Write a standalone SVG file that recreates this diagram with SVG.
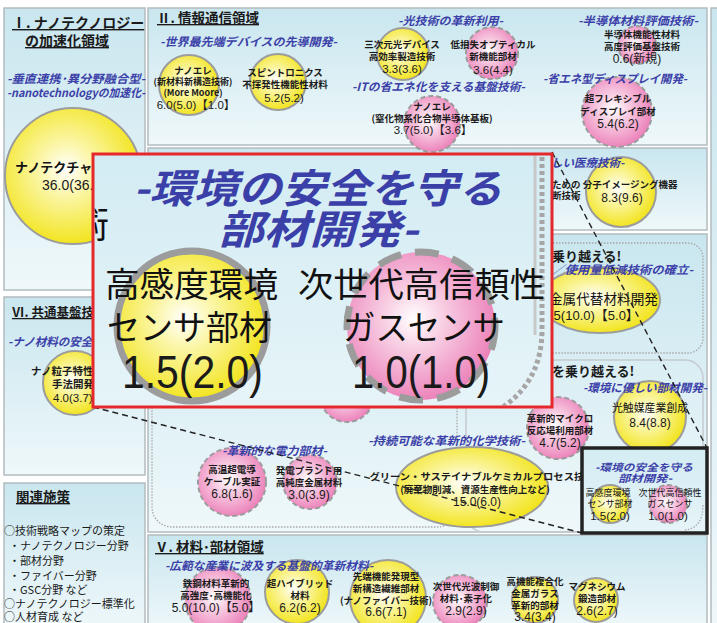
<svg xmlns="http://www.w3.org/2000/svg" width="717" height="623" viewBox="0 0 717 623">
<defs>
<linearGradient id="gp" x1="0" y1="0" x2="0" y2="1"><stop offset="0" stop-color="#c9e6ef"/><stop offset="1" stop-color="#eff8fa"/></linearGradient>
<linearGradient id="gr" x1="0" y1="0" x2="0" y2="1"><stop offset="0" stop-color="#d3ecf3"/><stop offset="1" stop-color="#e6f4f8"/></linearGradient>
<radialGradient id="gy" cx="0.45" cy="0.45" r="0.56"><stop offset="0" stop-color="#ffffff"/><stop offset="0.35" stop-color="#fbf6a8"/><stop offset="1" stop-color="#f2e41c"/></radialGradient>
<radialGradient id="gk" cx="0.45" cy="0.45" r="0.56"><stop offset="0" stop-color="#ffffff"/><stop offset="0.35" stop-color="#f8d0e4"/><stop offset="1" stop-color="#ec82ba"/></radialGradient>
<clipPath id="rc"><rect x="94.5" y="155.5" width="456" height="250"/></clipPath>
<style>
.pn{fill:url(#gp);stroke:#b3bcc0;stroke-width:1.5}
.y{fill:url(#gy);stroke:#9c9c9c;stroke-width:2}
.p{fill:url(#gk);stroke:#9c9c9c;stroke-width:2;stroke-dasharray:5 3}
.t{font-family:"Noto Sans CJK JP","Noto Sans",sans-serif;font-size:9.5px;font-weight:bold;fill:#1a1a1a;text-anchor:middle}
.n{font-family:"Liberation Sans Narrow","Liberation Sans","Noto Sans CJK JP",sans-serif;font-size:11.5px;fill:#1a1a1a;text-anchor:middle}
.b{font-family:"Noto Sans CJK JP","Noto Sans",sans-serif;font-size:11.5px;font-weight:bold;font-style:italic;fill:#3b3fa8}
.h{font-family:"Noto Sans CJK JP","Noto Sans",sans-serif;font-size:13.5px;font-weight:bold;fill:#1a1a1a;text-decoration:underline}
.k{font-family:"Noto Sans CJK JP","Noto Sans",sans-serif;font-size:11px;fill:#1a1a1a}
.kb{font-family:"Noto Sans CJK JP","Noto Sans",sans-serif;font-size:13px;font-weight:bold;fill:#1a1a1a}
.dot{fill:none;stroke:#a8a8a8;stroke-width:1.3;stroke-dasharray:1.5 1.5}
.cn{fill:none;stroke:#222;stroke-width:1.4;stroke-dasharray:6 4}
.Y{font-family:"Noto Sans CJK JP","Noto Sans",sans-serif;fill:#111;text-anchor:middle}
.s{text-anchor:start}
</style>
</defs>

<!-- panels -->
<g id="panels">
<rect class="pn" x="4" y="8" width="141" height="282"/>
<rect class="pn" x="148" y="8" width="559" height="137"/>
<rect class="pn" x="148" y="148" width="559" height="82"/>
<rect class="pn" x="148" y="234" width="559" height="298"/>
<rect class="pn" x="4" y="297" width="141" height="178"/>
<rect class="pn" x="4" y="483" width="141" height="150"/>
<rect class="pn" x="148" y="535" width="559" height="95"/>
<rect class="pn" x="711" y="8" width="20" height="625"/>
<rect class="dot" x="152" y="243" width="305" height="284" rx="20"/>
<rect class="dot" x="466" y="243" width="237" height="110" rx="15"/>
<rect x="466" y="360" width="237" height="172" rx="18" fill="none" stroke="#c4ccd0" stroke-width="1.5"/>
</g>

<!-- Panel I nodes -->
<g id="n-nanotecture">
<circle class="y" cx="73" cy="176" r="68"/>
<text class="Y s" x="15" y="172" style="font-size:13px;font-weight:bold">ナノテクチャ</text>
<text class="n s" x="42" y="190" style="font-size:14px">36.0(36.5)</text>
</g>

<!-- Panel II nodes -->
<g id="n-nanoele1">
<circle class="y" cx="189" cy="85" r="30"/>
<text class="t" x="193" y="74">ナノエレ</text>
<text class="t" x="193" y="85" style="font-size:9px">(新材料新構造技術)</text>
<text class="t" x="193" y="96" style="font-size:9px">(More Moore)</text>
<text class="n" x="196" y="109">6.0(5.0)【1.0】</text>
</g>
<g id="n-spin">
<circle class="y" cx="278" cy="82" r="28"/>
<text class="t" x="285" y="76">スピントロニクス</text>
<text class="t" x="285" y="88">不揮発性機能性材料</text>
<text class="n" x="284" y="102">5.2(5.2)</text>
</g>
<g id="n-3d">
<circle class="y" cx="403" cy="54" r="26"/>
<text class="t" x="402" y="48">三次元光デバイス</text>
<text class="t" x="402" y="60">高効率製造技術</text>
<text class="n" x="402" y="73">3.3(3.6)</text>
</g>
<g id="n-optical">
<circle class="p" cx="492" cy="53" r="26"/>
<text class="t" x="493" y="48">低損失オプティカル</text>
<text class="t" x="493" y="60">新機能部材</text>
<text class="n" x="493" y="74">3.6(4.4)</text>
</g>
<g id="n-nanoele2">
<circle class="p" cx="432" cy="124" r="28"/>
<text class="t" x="432" y="110">ナノエレ</text>
<text class="t" x="432" y="122">(窒化物系化合物半導体基板)</text>
<text class="n" x="433" y="134">3.7(5.0)【3.6】</text>
</g>
<g id="n-semi">
<circle class="p" cx="637" cy="45" r="19"/>
<text class="t" x="642" y="38">半導体機能性材料</text>
<text class="t" x="642" y="50">高度評価基盤技術</text>
<text class="n" x="637" y="63" style="font-size:12px">0.6(新規)</text>
</g>
<g id="n-flex">
<circle class="p" cx="617" cy="112" r="35"/>
<text class="t" x="618" y="102">超フレキシブル</text>
<text class="t" x="618" y="115">ディスプレイ部材</text>
<text class="n" x="618" y="128" style="font-size:12px">5.4(6.2)</text>
</g>

<!-- Panel III nodes -->
<g id="n-imaging">
<circle class="y" cx="621" cy="192" r="35"/>
<text class="t s" x="552" y="188" xml:space="preserve">ための 分子イメージング機器</text>
<text class="t s" x="552" y="199">断技術</text>
<text class="n" x="622" y="202" style="font-size:12px">8.3(9.6)</text>
</g>

<!-- Panel IV nodes -->
<g id="n-metal">
<ellipse class="y" cx="600" cy="300" rx="60" ry="33"/>
<text class="Y s" x="549" y="304" style="font-size:14px" textLength="109" lengthAdjust="spacingAndGlyphs">金属代替材料開発</text>
<text class="n s" x="550" y="320" style="font-size:13px">.5(10.0)【5.0】</text>
</g>
<g id="n-photocat">
<circle class="y" cx="650" cy="417" r="36"/>
<text class="Y" x="650" y="412" style="font-size:11px" textLength="76" lengthAdjust="spacingAndGlyphs">光触媒産業創成</text>
<text class="n" x="650" y="427" style="font-size:12px">8.4(8.8)</text>
</g>
<g id="n-micro">
<circle class="p" cx="558" cy="428" r="31"/>
<text class="t" x="560" y="422">革新的マイクロ</text>
<text class="t" x="560" y="434">反応場利用部材</text>
<text class="n" x="560" y="447" style="font-size:12px">4.7(5.2)</text>
</g>
<g id="n-gsc">
<ellipse class="y" cx="472" cy="487" rx="76" ry="40"/>
<text class="t" x="482" y="480" textLength="225" lengthAdjust="spacingAndGlyphs">グリーン・サステイナブルケミカルプロセス技術</text>
<text class="t" x="475" y="493">(廃棄物削減、資源生産性向上など)</text>
<text class="n" x="477" y="506" style="font-size:12px">15.0(6.0)</text>
</g>
<g id="n-hts">
<circle class="p" cx="232" cy="482" r="34"/>
<text class="t" x="232" y="473">高温超電導</text>
<text class="t" x="232" y="485">ケーブル実証</text>
<text class="n" x="232" y="498" style="font-size:12px">6.8(1.6)</text>
</g>
<g id="n-plant">
<circle class="p" cx="310" cy="482" r="27"/>
<text class="t" x="309" y="474">発電プラント用</text>
<text class="t" x="309" y="486">高純度金属材料</text>
<text class="n" x="309" y="499" style="font-size:12px">3.0(3.9)</text>
</g>
<g id="n-hidden">
<circle class="p" cx="347" cy="395" r="27"/>
</g>

<!-- Panel VI nodes -->
<g id="n-nanoparticle">
<circle class="y" cx="75" cy="383" r="32"/>
<text class="t s" x="31" y="375" style="font-size:10.5px">ナノ粒子特性</text>
<text class="t s" x="52" y="388" style="font-size:10.5px">手法開発</text>
<text class="n s" x="53" y="402">4.0(3.7)</text>
</g>

<!-- Panel V nodes -->
<g id="n-steel">
<circle class="p" cx="218" cy="600" r="33"/>
<text class="t" x="216" y="587">鉄鋼材料革新的</text>
<text class="t" x="216" y="599">高強度･高機能化</text>
<text class="n" x="216" y="612" style="font-size:12px">5.0(10.0)【5.0】</text>
</g>
<g id="n-hybrid">
<circle class="y" cx="297" cy="592" r="32"/>
<text class="t" x="300" y="587">超ハイブリッド</text>
<text class="t" x="300" y="599">材料</text>
<text class="n" x="300" y="612" style="font-size:12px">6.2(6.2)</text>
</g>
<g id="n-fiber">
<circle class="y" cx="388" cy="598" r="38"/>
<text class="t" x="386" y="580">先端機能発現型</text>
<text class="t" x="386" y="592">新構造繊維部材</text>
<text class="t" x="386" y="604">(ナノファイバー技術)</text>
<text class="n" x="386" y="616" style="font-size:12px">6.6(7.1)</text>
</g>
<g id="n-lightwave">
<circle class="p" cx="460" cy="602" r="27"/>
<text class="t" x="466" y="590">次世代光波制御</text>
<text class="t" x="466" y="602">材料･素子化</text>
<text class="n" x="466" y="615" style="font-size:12px">2.9(2.9)</text>
</g>
<g id="n-glass">
<circle class="y" cx="535" cy="600" r="23"/>
<text class="t" x="535" y="585">高機能複合化</text>
<text class="t" x="535" y="597">金属ガラス</text>
<text class="t" x="535" y="609">革新的部材</text>
<text class="n" x="535" y="621" style="font-size:12px">3.4(3.4)</text>
</g>
<g id="n-mg">
<circle class="y" cx="596" cy="600" r="22"/>
<text class="t" x="597" y="590">マグネシウム</text>
<text class="t" x="597" y="602">鍛造部材</text>
<text class="n" x="597" y="615" style="font-size:12px">2.6(2.7)</text>
</g>

<!-- panel labels (drawn over circles) -->
<g id="labels">
<text class="h" x="12" y="28" style="font-size:14px">Ⅰ. ナノテクノロジー</text>
<text class="h" x="25" y="46" style="font-size:14px">の加速化領域</text>
<text class="b" x="7" y="83" textLength="138" lengthAdjust="spacingAndGlyphs">-垂直連携･異分野融合型-</text>
<text class="b" x="7" y="97" textLength="138" lengthAdjust="spacingAndGlyphs">-nanotechnologyの加速化-</text>
<text class="h" x="157" y="23">Ⅱ. 情報通信領域</text>
<text class="b" x="160" y="46" textLength="177" lengthAdjust="spacingAndGlyphs">-世界最先端デバイスの先導開発-</text>
<text class="b" x="398" y="25" textLength="105" lengthAdjust="spacingAndGlyphs">-光技術の革新利用-</text>
<text class="b" x="352" y="91" textLength="173" lengthAdjust="spacingAndGlyphs">-ITの省エネ化を支える基盤技術-</text>
<text class="b" x="578" y="25" textLength="120" lengthAdjust="spacingAndGlyphs">-半導体材料評価技術-</text>
<text class="b" x="543" y="83" textLength="144" lengthAdjust="spacingAndGlyphs">-省エネ型ディスプレイ開発-</text>
<text class="b" x="551" y="167">しい医療技術-</text>
<text class="kb" x="552" y="261">乗り越える!</text>
<text class="b" x="552" y="274" textLength="141" lengthAdjust="spacingAndGlyphs">／使用量低減技術の確立-</text>
<text class="kb" x="552" y="376">を乗り越える!</text>
<text class="b" x="583" y="392" textLength="124" lengthAdjust="spacingAndGlyphs">-環境に優しい部材開発-</text>
<text class="b" x="368" y="445" textLength="157" lengthAdjust="spacingAndGlyphs">-持続可能な革新的化学技術-</text>
<text class="b" x="222" y="455" textLength="105" lengthAdjust="spacingAndGlyphs">-革新的な電力部材-</text>
<text class="h" x="12" y="317" style="font-size:12.5px">Ⅵ. 共通基盤技術</text>
<text class="b" x="8" y="346">-ナノ材料の安全性</text>
<text class="h" x="155" y="552">Ⅴ. 材料･部材領域</text>
<text class="b" x="165" y="570" textLength="208" lengthAdjust="spacingAndGlyphs">-広範な産業に波及する基盤的革新材料-</text>
</g>

<!-- related policies -->
<g id="policies">
<text class="h" x="16" y="502">関連施策</text>
<text class="k" x="4" y="535">○技術戦略マップの策定</text>
<text class="k" x="9" y="550">・ナノテクノロジー分野</text>
<text class="k" x="9" y="565">・部材分野</text>
<text class="k" x="9" y="580">・ファイバー分野</text>
<text class="k" x="9" y="594">・GSC分野 など</text>
<text class="k" x="4" y="608">○ナノテクノロジー標準化</text>
<text class="k" x="4" y="621">○人材育成 など</text>
</g>

<!-- connectors -->
<g id="connectors">
<line class="cn" x1="552" y1="152" x2="707" y2="448"/>
<line class="cn" x1="93" y1="407" x2="582" y2="533"/>
</g>

<!-- black box (small) -->
<g id="n-env-small">
<rect x="582" y="448" width="125" height="85" fill="url(#gr)" stroke="#222" stroke-width="3.5"/>
<path d="M703 505 Q703 528 685 530" fill="none" stroke="#aaa" stroke-width="1.3" stroke-dasharray="1.5 1.5"/>
<circle class="y" cx="610" cy="504" r="19"/>
<circle class="p" cx="668" cy="504" r="19"/>
<text class="b" x="595" y="471" style="font-size:10px" textLength="98" lengthAdjust="spacingAndGlyphs">-環境の安全を守る</text>
<text class="b" x="618" y="482" style="font-size:10px" textLength="54" lengthAdjust="spacingAndGlyphs">部材開発-</text>
<text class="Y" x="608" y="496" style="font-size:9px">高感度環境</text>
<text class="Y" x="670" y="496" style="font-size:9px">次世代高信頼性</text>
<text class="Y" x="610" y="507" style="font-size:9px">センサ部材</text>
<text class="Y" x="670" y="507" style="font-size:9px">ガスセンサ</text>
<text class="n" x="610" y="520" style="font-size:11.5px">1.5(2.0)</text>
<text class="n" x="668" y="520" style="font-size:11.5px">1.0(1.0)</text>
</g>

<!-- red zoom box -->
<g id="n-env-zoom">
<rect x="93" y="154" width="459" height="253" fill="url(#gr)"/>
<g clip-path="url(#rc)">
<text class="Y s" x="73" y="238" style="font-size:36px">術</text>
<line x1="535" y1="155" x2="535" y2="335" stroke="#c8c8c8" stroke-width="3"/>
<path d="M542 157 V330 Q542 380 503 407" fill="none" stroke="#a6a6a6" stroke-width="5" stroke-dasharray="4 3"/>
<circle cx="192" cy="326" r="75" fill="url(#gy)" stroke="#9c9c9c" stroke-width="7"/>
<circle cx="421" cy="326" r="74" fill="url(#gk)" stroke="#9c9c9c" stroke-width="7" stroke-dasharray="24 14"/>
</g>
<text class="b" x="133" y="203" style="font-size:40px" textLength="369" lengthAdjust="spacingAndGlyphs">-環境の安全を守る</text>
<text class="b" x="218" y="244" style="font-size:40px" textLength="200" lengthAdjust="spacingAndGlyphs">部材開発-</text>
<text class="Y s" x="105" y="297" style="font-size:34px" textLength="173" lengthAdjust="spacingAndGlyphs">高感度環境</text>
<text class="Y s" x="298" y="297" style="font-size:34px" textLength="247" lengthAdjust="spacingAndGlyphs">次世代高信頼性</text>
<text class="Y s" x="107" y="340" style="font-size:34px" textLength="165" lengthAdjust="spacingAndGlyphs">センサ部材</text>
<text class="Y s" x="343" y="340" style="font-size:34px" textLength="162" lengthAdjust="spacingAndGlyphs">ガスセンサ</text>
<text class="n s" x="122" y="388" style="font-size:46px" textLength="141" lengthAdjust="spacingAndGlyphs">1.5(2.0)</text>
<text class="n s" x="352" y="388" style="font-size:46px" textLength="138" lengthAdjust="spacingAndGlyphs">1.0(1.0)</text>
<rect x="93" y="154" width="459" height="253" fill="none" stroke="#e5282c" stroke-width="3"/>
</g>
</svg>
